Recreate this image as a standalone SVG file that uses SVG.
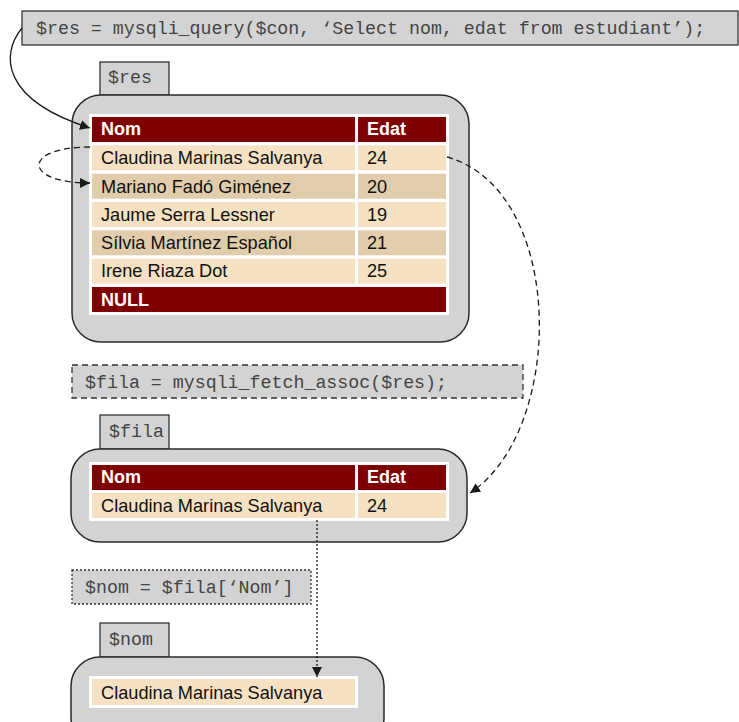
<svg xmlns="http://www.w3.org/2000/svg" width="739" height="722" viewBox="0 0 739 722">
<defs>
<marker id="ah" viewBox="0 0 10 10" refX="10" refY="5" markerWidth="10" markerHeight="10" markerUnits="userSpaceOnUse" orient="auto">
<path d="M0,0 L10,5 L0,10 z" fill="#1a1a1a"/>
</marker>
</defs>
<style>
.code{font-family:"Liberation Mono","Courier New",monospace;font-size:18.3px;fill:#444}
.box{fill:#d3d3d3;stroke:#333;stroke-width:1.3}
.cont{fill:#d3d3d3;stroke:#2a2a2a;stroke-width:1.5}
.tbl{fill:#fff}
.hd{fill:#7f0000}
.l{fill:#f6e2c3}
.d{fill:#e1cdab}
.ht{font-family:"Liberation Sans",Arial,sans-serif;font-size:18px;font-weight:bold;fill:#fff}
.t{font-family:"Liberation Sans",Arial,sans-serif;font-size:18.2px;fill:#111}
.con{fill:none;stroke:#1a1a1a;stroke-width:1.3}
</style>

<g id="query">
<rect class="box" x="22" y="11" width="716" height="34"/>
<text class="code" x="36" y="34">$res = mysqli_query($con, ‘Select nom, edat from estudiant’);</text>
</g>

<g id="res">
<rect class="box" x="100" y="62" width="69" height="33"/>
<text class="code" x="108" y="83">$res</text>
<rect class="cont" x="72" y="95" width="397" height="247" rx="29"/>
<rect class="tbl" x="89" y="114" width="360" height="201"/>
<rect class="hd" x="92" y="117" width="263" height="25"/>
<rect class="hd" x="358" y="117" width="88" height="25"/>
<text class="ht" x="101" y="135">Nom</text>
<text class="ht" x="367" y="135">Edat</text>
<rect class="l" x="92" y="145.3" width="263" height="25"/>
<rect class="l" x="358" y="145.3" width="88" height="25"/>
<text class="t" x="101" y="164">Claudina Marinas Salvanya</text>
<text class="t" x="367" y="164">24</text>
<rect class="d" x="92" y="173.7" width="263" height="25"/>
<rect class="d" x="358" y="173.7" width="88" height="25"/>
<text class="t" x="101" y="192.5">Mariano Fadó Giménez</text>
<text class="t" x="367" y="192.5">20</text>
<rect class="l" x="92" y="202" width="263" height="25"/>
<rect class="l" x="358" y="202" width="88" height="25"/>
<text class="t" x="101" y="220.8">Jaume Serra Lessner</text>
<text class="t" x="367" y="220.8">19</text>
<rect class="d" x="92" y="230.3" width="263" height="25"/>
<rect class="d" x="358" y="230.3" width="88" height="25"/>
<text class="t" x="101" y="249">Sílvia Martínez Español</text>
<text class="t" x="367" y="249">21</text>
<rect class="l" x="92" y="258.7" width="263" height="25"/>
<rect class="l" x="358" y="258.7" width="88" height="25"/>
<text class="t" x="101" y="277.4">Irene Riaza Dot</text>
<text class="t" x="367" y="277.4">25</text>
<rect class="hd" x="92" y="287" width="354" height="25"/>
<text class="ht" x="101" y="305.7">NULL</text>
</g>

<g id="fetch">
<rect class="box" x="72" y="365" width="451" height="33" stroke-dasharray="6,4"/>
<text class="code" x="85" y="388">$fila = mysqli_fetch_assoc($res);</text>
</g>

<g id="fila">
<rect class="box" x="100" y="415" width="69" height="34"/>
<text class="code" x="109" y="437">$fila</text>
<rect class="cont" x="71" y="449" width="396" height="93" rx="29"/>
<rect class="tbl" x="89" y="462" width="360" height="59"/>
<rect class="hd" x="92" y="465" width="263" height="25"/>
<rect class="hd" x="358" y="465" width="88" height="25"/>
<text class="ht" x="101" y="483">Nom</text>
<text class="ht" x="367" y="483">Edat</text>
<rect class="l" x="92" y="493" width="263" height="25"/>
<rect class="l" x="358" y="493" width="88" height="25"/>
<text class="t" x="101" y="512">Claudina Marinas Salvanya</text>
<text class="t" x="367" y="512">24</text>
</g>

<g id="assign">
<rect class="box" x="72" y="570" width="239" height="34" stroke-dasharray="2,2"/>
<text class="code" x="85" y="593">$nom = $fila[‘Nom’]</text>
</g>

<g id="nom">
<rect class="box" x="100" y="623" width="69" height="34"/>
<text class="code" x="109" y="645">$nom</text>
<rect class="cont" x="71" y="657" width="313" height="90" rx="29"/>
<rect class="tbl" x="89" y="676" width="269" height="32"/>
<rect class="l" x="92" y="679" width="263" height="26"/>
<text class="t" x="101" y="699">Claudina Marinas Salvanya</text>
</g>

<g id="connectors">
<path class="con" d="M22,28 C0,55 2,100 90,128" marker-end="url(#ah)"/>
<path class="con" d="M90,147 C22,147 22,183 90,183" stroke-dasharray="6,4" marker-end="url(#ah)"/>
<path class="con" d="M447,157 C566,190 566,430 470,493" stroke-dasharray="6,4" marker-end="url(#ah)"/>
<path class="con" d="M317,520 L317,677" stroke-dasharray="2,2" marker-end="url(#ah)"/>
</g>
</svg>
